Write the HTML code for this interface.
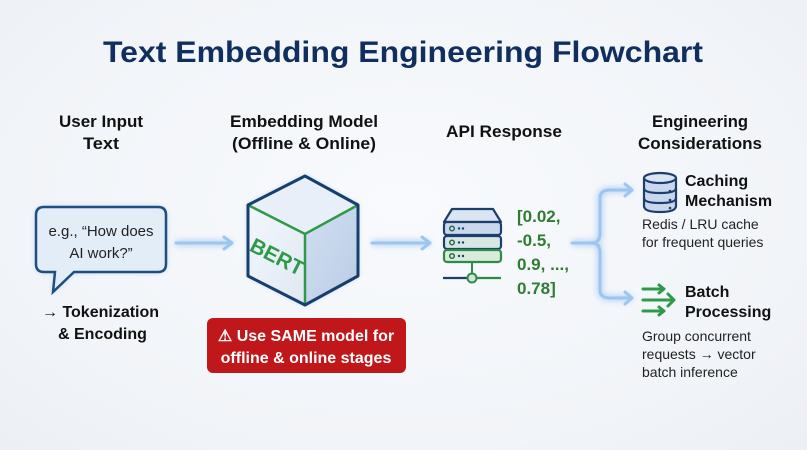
<!DOCTYPE html>
<html><head><meta charset="utf-8"><style>
html,body{margin:0;padding:0;}
body{width:807px;height:450px;overflow:hidden;background:radial-gradient(ellipse at 50% 45%,#f8fafd 0%,#f1f4f8 70%,#eceff4 100%);font-family:"Liberation Sans",sans-serif;}
svg{position:absolute;left:0;top:0}
</style></head><body>
<svg width="807" height="450" viewBox="0 0 807 450" xmlns="http://www.w3.org/2000/svg">
<defs>
<filter id="glow" x="-50%" y="-50%" width="200%" height="200%"><feGaussianBlur stdDeviation="3"/></filter>
<linearGradient id="lf" x1="0" y1="0" x2="1" y2="1"><stop offset="0" stop-color="#f3f7fc"/><stop offset="1" stop-color="#dfe8f3"/></linearGradient>
<linearGradient id="rf" x1="0" y1="0" x2="1" y2="1"><stop offset="0" stop-color="#d2dff0"/><stop offset="1" stop-color="#b9cce6"/></linearGradient>
</defs>
<g font-family="Liberation Sans, sans-serif" font-weight="bold">
<text x="403" y="62" text-anchor="middle" font-size="30" fill="#102f5e" textLength="600" lengthAdjust="spacingAndGlyphs">Text Embedding Engineering Flowchart</text>
<g font-size="17" fill="#111" text-anchor="middle">
<text x="101" y="127" textLength="84" lengthAdjust="spacingAndGlyphs">User Input</text>
<text x="101" y="149" textLength="36" lengthAdjust="spacingAndGlyphs">Text</text>
<text x="304" y="127" textLength="148" lengthAdjust="spacingAndGlyphs">Embedding Model</text>
<text x="304" y="149" textLength="144" lengthAdjust="spacingAndGlyphs">(Offline &amp; Online)</text>
<text x="504" y="137" textLength="116" lengthAdjust="spacingAndGlyphs">API Response</text>
<text x="700" y="127" textLength="96" lengthAdjust="spacingAndGlyphs">Engineering</text>
<text x="700" y="149" textLength="124" lengthAdjust="spacingAndGlyphs">Considerations</text>
</g>
</g>
<path d="M44 207 H158 Q166 207 166 215 V264 Q166 272 158 272 H74 L53 292 L55 272 H44 Q36 272 36 264 V215 Q36 207 44 207 Z" fill="#4a90e2" opacity="0.35" filter="url(#glow)"/>
<path d="M44 207 H158 Q166 207 166 215 V264 Q166 272 158 272 H74 L53 292 L55 272 H44 Q36 272 36 264 V215 Q36 207 44 207 Z" fill="#e3edf8" stroke="#1d4f80" stroke-width="2.5"/>
<g font-family="Liberation Sans, sans-serif" font-size="15" fill="#222" text-anchor="middle">
<text x="101" y="236">e.g., “How does</text>
<text x="101" y="258">AI work?”</text>
</g>
<g font-family="Liberation Sans, sans-serif" font-weight="bold" font-size="16" fill="#111">
<text x="42" y="317">→ Tokenization</text>
<text x="58" y="339">&amp; Encoding</text>
</g>
<g stroke="#7fb2ec" stroke-width="6" fill="none" opacity="0.5" filter="url(#glow)">
<path d="M176 243 H232"/><path d="M372 243 H430"/>
<path d="M572 243 H592 Q600 243 600 233 V198 Q600 190 610 190 H632"/>
<path d="M592 243 Q600 243 600 253 V290 Q600 298 610 298 H632"/>
</g>
<g stroke="#9cc6f2" stroke-width="3" fill="none" stroke-linecap="round" stroke-linejoin="round">
<path d="M176 243 H232 M224 237 L232 243 L224 249"/>
<path d="M372 243 H430 M422 237 L430 243 L422 249"/>
<path d="M572 243 H592 Q600 243 600 233 V198 Q600 190 610 190 H632 M625 184 L632 190 L625 196"/>
<path d="M592 243 Q600 243 600 253 V290 Q600 298 610 298 H632 M625 292 L632 298 L625 304"/>
</g>
<polygon points="305,176 358,205 358,276 305,305 248,276 248,205" fill="#4a90e2" opacity="0.35" filter="url(#glow)"/>
<polygon points="248,205 305,234 305,305 248,276" fill="url(#lf)"/>
<polygon points="305,234 358,205 358,276 305,305" fill="url(#rf)"/>
<polygon points="305,176 358,205 305,234 248,205" fill="#e8eff8"/>
<polyline points="248,205 305,234 358,205" fill="none" stroke="#2e9a48" stroke-width="2.5"/>
<line x1="305" y1="234" x2="305" y2="305" stroke="#2e9a48" stroke-width="2.5"/>
<polygon points="305,176 358,205 358,276 305,305 248,276 248,205" fill="none" stroke="#173f6e" stroke-width="3" stroke-linejoin="round"/>
<text x="277" y="264" font-family="Liberation Sans, sans-serif" font-weight="bold" font-size="21" fill="#2e9a48" text-anchor="middle" transform="rotate(27 277 257)">BERT</text>
<rect x="207" y="318" width="199" height="55" rx="6" fill="#c0171b"/>
<g font-family="Liberation Sans, sans-serif" font-weight="bold" font-size="16" fill="#fff" text-anchor="middle">
<text x="306" y="341">⚠ Use SAME model for</text>
<text x="306" y="363">offline &amp; online stages</text>
</g>
<path d="M452 209 H493 L501 222 H444 Z" fill="#dbe5f1" stroke="#1d3f6e" stroke-width="2.2" stroke-linejoin="round"/>
<rect x="444" y="222" width="57" height="13" rx="3" fill="#c9d8ec" stroke="#1d3f6e" stroke-width="2.2"/>
<rect x="444" y="236" width="57" height="13" rx="3" fill="#d8e7e4" stroke="#1d3f6e" stroke-width="2.2"/>
<rect x="444" y="250" width="57" height="12" rx="3" fill="#d9ecdc" stroke="#2e8a48" stroke-width="2.2"/>
<g fill="#1d3f6e"><circle cx="452" cy="228.5" r="2.3" fill="none" stroke="#2e6a48" stroke-width="1.5"/><circle cx="459" cy="228.5" r="1.2"/><circle cx="463" cy="228.5" r="1.2"/>
<circle cx="452" cy="242.5" r="2.3" fill="none" stroke="#2e6a48" stroke-width="1.5"/><circle cx="459" cy="242.5" r="1.2"/><circle cx="463" cy="242.5" r="1.2"/>
<circle cx="452" cy="256" r="2.3" fill="none" stroke="#2e6a48" stroke-width="1.5"/><circle cx="459" cy="256" r="1.2"/><circle cx="463" cy="256" r="1.2"/></g>
<line x1="472" y1="262" x2="472" y2="274" stroke="#2e8a48" stroke-width="2"/>
<line x1="443" y1="278" x2="467" y2="278" stroke="#1d3f6e" stroke-width="2.2"/>
<line x1="477" y1="278" x2="501" y2="278" stroke="#2e8a48" stroke-width="2.2"/>
<circle cx="472" cy="278" r="4.5" fill="#cfe6d4" stroke="#2e8a48" stroke-width="2"/>
<g font-family="Liberation Sans, sans-serif" font-weight="bold" font-size="17" fill="#2e7d32">
<text x="517" y="222">[0.02,</text>
<text x="517" y="246">-0.5,</text>
<text x="517" y="270">0.9, ...,</text>
<text x="517" y="294">0.78]</text>
</g>
<g stroke="#1d3f6e" stroke-width="2.2" fill="#c9d8ec">
<path d="M644 178 V206 Q644 212 660 212 Q676 212 676 206 V178"/>
<ellipse cx="660" cy="178" rx="16" ry="5" fill="#dbe5f1"/>
<path d="M644 188 Q644 193 660 193 Q676 193 676 188" fill="none"/>
<path d="M644 198 Q644 203 660 203 Q676 203 676 198" fill="none"/>
</g>
<g fill="#1d3f6e"><circle cx="670" cy="191" r="1.3"/><circle cx="670" cy="200" r="1.3"/><circle cx="670" cy="208" r="1.3"/></g>
<g stroke="#2e9a48" stroke-width="3" fill="none" stroke-linecap="round" stroke-linejoin="round">
<path d="M643 289 H664 M659 285 L664 289 L659 293"/>
<path d="M643 300 H674 M668 294 L674 300 L668 306"/>
<path d="M643 311 H664 M659 307 L664 311 L659 315"/>
</g>
<g font-family="Liberation Sans, sans-serif" font-weight="bold" font-size="16" fill="#111">
<text x="685" y="186">Caching</text>
<text x="685" y="206">Mechanism</text>
<text x="685" y="297">Batch</text>
<text x="685" y="317">Processing</text>
</g>
<g font-family="Liberation Sans, sans-serif" font-size="14" fill="#222">
<text x="642" y="229">Redis / LRU cache</text>
<text x="642" y="247">for frequent queries</text>
<text x="642" y="341">Group concurrent</text>
<text x="642" y="359">requests → vector</text>
<text x="642" y="377">batch inference</text>
</g>
</svg>
</body></html>
